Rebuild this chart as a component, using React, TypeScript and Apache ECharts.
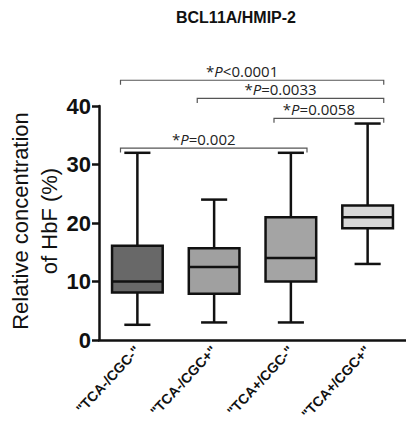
import React, { useEffect, useRef } from "react";
import * as echarts from "echarts";

const categories = ['"TCA-/CGC-"', '"TCA-/CGC+"', '"TCA+/CGC-"', '"TCA+/CGC+"'];
// [min, Q1, median, Q3, max]
const boxStats = [
  [2.6, 8.1, 10, 16.1, 32],
  [3, 7.9, 12.5, 15.7, 24],
  [3, 10, 14, 21, 32],
  [13, 19.1, 21, 23, 37],
];
const boxColors = ["#686868", "#a0a0a0", "#a4a4a4", "#d8d8d8"];
const yTicks = [0, 10, 20, 30, 40];
// significance brackets: [from category, to category, y value]
const bracketFrom = [0, 1, 2, 0];
const bracketTo = [3, 3, 3, 2];
const bracketY = [44.4, 41.3, 37.9, 32.8];
const bracketOp = ["<", "=", "=", "="];
const bracketP = ["0.0001", "0.0033", "0.0058", "0.002"];

export default function App() {
  const ref = useRef<HTMLDivElement>(null);
  useEffect(() => {
    if (!ref.current) return;
    const chart = echarts.init(ref.current, null, { renderer: "svg" });
    const boxData = boxStats.map((s, i) => [i, ...s]);
    const bracketData = bracketFrom.map((f, i) => [f, bracketTo[i], bracketY[i], i]);
    const font = "Liberation Sans, Arial, sans-serif";
    chart.setOption({
      animation: false,
      grid: { left: 99, top: 106, width: 309, height: 234, containLabel: false },
      graphic: [
        {
          type: "text",
          x: 236,
          y: 17,
          style: {
            text: "BCL11A/HMIP-2",
            fontFamily: font,
            fontWeight: "bold",
            fontSize: 16,
            fill: "#111",
            textAlign: "center",
            textVerticalAlign: "middle",
          },
        },
        {
          type: "text",
          x: 35,
          y: 221,
          rotation: Math.PI / 2,
          style: {
            text: "Relative concentration\nof HbF (%)",
            fontFamily: font,
            fontSize: 22,
            lineHeight: 29,
            fill: "#111",
            textAlign: "center",
            textVerticalAlign: "middle",
          },
        },
      ],
      xAxis: {
        type: "category",
        data: categories,
        boundaryGap: true,
        axisLine: { lineStyle: { color: "#111", width: 2.5 } },
        axisTick: { alignWithLabel: true, length: 6, lineStyle: { color: "#111", width: 2.5 } },
        axisLabel: {
          rotate: 47,
          interval: 0,
          margin: 8,
          fontFamily: font,
          fontWeight: "bold",
          fontSize: 14,
          color: "#111",
        },
        splitLine: { show: false },
      },
      yAxis: {
        type: "value",
        min: yTicks[0],
        max: yTicks[yTicks.length - 1],
        interval: 10,
        axisLine: { show: true, lineStyle: { color: "#111", width: 2.5 } },
        axisTick: { show: true, inside: false, length: 7, lineStyle: { color: "#111", width: 2.5 } },
        axisLabel: { margin: 8, fontFamily: font, fontWeight: "bold", fontSize: 22, color: "#111" },
        splitLine: { show: false },
      },
      series: [
        {
          type: "custom",
          data: boxData,
          encode: { x: 0, y: [1, 2, 3, 4, 5] },
          renderItem: (params: any, api: any) => {
            const x = api.value(0);
            const band = api.size([1, 0])[0];
            const bw = band * 0.66;
            const cw = band * 0.34;
            const pMin = api.coord([x, api.value(1)]);
            const pQ1 = api.coord([x, api.value(2)]);
            const pMed = api.coord([x, api.value(3)]);
            const pQ3 = api.coord([x, api.value(4)]);
            const pMax = api.coord([x, api.value(5)]);
            const cx = pMin[0];
            const st = { stroke: "#111", lineWidth: 2.5 };
            return {
              type: "group",
              children: [
                { type: "line", shape: { x1: cx, y1: pQ3[1], x2: cx, y2: pMax[1] }, style: st },
                { type: "line", shape: { x1: cx - cw / 2, y1: pMax[1], x2: cx + cw / 2, y2: pMax[1] }, style: st },
                { type: "line", shape: { x1: cx, y1: pQ1[1], x2: cx, y2: pMin[1] }, style: st },
                { type: "line", shape: { x1: cx - cw / 2, y1: pMin[1], x2: cx + cw / 2, y2: pMin[1] }, style: st },
                {
                  type: "rect",
                  shape: { x: cx - bw / 2, y: pQ3[1], width: bw, height: pQ1[1] - pQ3[1] },
                  style: { fill: boxColors[params.dataIndex], stroke: "#111", lineWidth: 2.5 },
                },
                { type: "line", shape: { x1: cx - bw / 2, y1: pMed[1], x2: cx + bw / 2, y2: pMed[1] }, style: st },
              ],
            };
          },
        },
        {
          type: "custom",
          data: bracketData,
          encode: { x: [0, 1], y: 2 },
          clip: false,
          renderItem: (params: any, api: any) => {
            const band = api.size([1, 0])[0];
            const a = api.coord([api.value(0), api.value(2)]);
            const b = api.coord([api.value(1), api.value(2)]);
            const i = api.value(3);
            const x1 = a[0] - band * 0.22;
            const x2 = b[0] + band * 0.21;
            const y = a[1];
            return {
              type: "group",
              children: [
                {
                  type: "polyline",
                  shape: { points: [[x1, y + 4.5], [x1, y], [x2, y], [x2, y + 4.5]] },
                  style: { stroke: "#555", lineWidth: 1.2, fill: "none" },
                },
                {
                  type: "text",
                  x: (x1 + x2) / 2 - 10,
                  y: y - 2,
                  style: {
                    text: "{n|*}{i|P}{n|" + bracketOp[i] + bracketP[i] + "}",
                    textAlign: "center",
                    textVerticalAlign: "bottom",
                    rich: {
                      n: { fontFamily: "Open Sans, sans-serif", fontSize: 15, fill: "#222" },
                      i: { fontFamily: "Open Sans, sans-serif", fontSize: 15, fontStyle: "italic", fill: "#222" },
                    },
                  },
                },
              ],
            };
          },
        },
      ],
    });
    return () => chart.dispose();
  }, []);
  return <div ref={ref} style={{ width: 406, height: 425, position: "absolute", left: 0, top: 0 }} />;
}
